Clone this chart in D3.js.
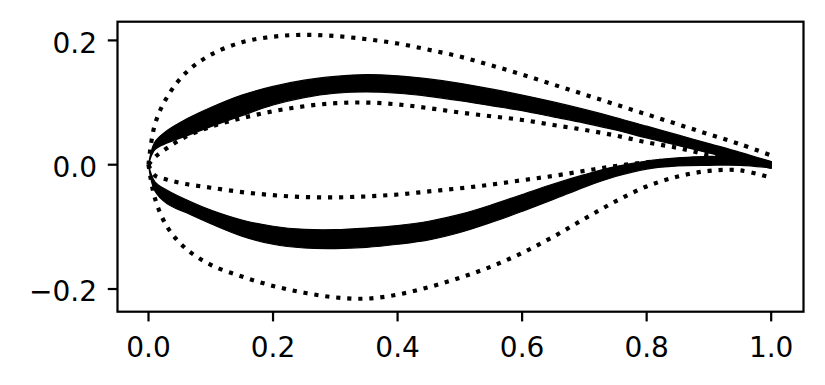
<!DOCTYPE html>
<html>
<head>
<meta charset="utf-8">
<script src="https://cdn.jsdelivr.net/npm/d3@7"></script>
<style>
  html, body { margin: 0; padding: 0; background: #fff; }
  svg { display: block; }
  text { font-family: "DejaVu Sans", sans-serif; fill: #000; }
</style>
</head>
<body>
<svg id="chart" width="825" height="385"></svg>
<script>
// ---- data ----
const xs = [0, 0.01, 0.03, 0.06, 0.1, 0.15, 0.2, 0.25, 0.3, 0.35, 0.4, 0.45, 0.5,
            0.55, 0.6, 0.65, 0.7, 0.75, 0.8, 0.85, 0.9, 0.95, 1.0];

// dotted envelope curves
const upperOuter = [0, 0.064, 0.109, 0.148, 0.177, 0.197, 0.206, 0.209, 0.207, 0.202, 0.195, 0.185, 0.174,
                    0.160, 0.145, 0.129, 0.113, 0.097, 0.081, 0.065, 0.049, 0.033, 0.015];
const upperInner = [0, 0.012, 0.027, 0.045, 0.061, 0.075, 0.086, 0.094, 0.099, 0.100, 0.097, 0.091, 0.084,
                    0.078, 0.072, 0.064, 0.056, 0.047, 0.036, 0.027, 0.016, 0.009, 0.002];
const lowerInner = [0, -0.017, -0.024, -0.031, -0.037, -0.044, -0.049, -0.052, -0.0525, -0.051, -0.048, -0.043, -0.038,
                    -0.032, -0.025, -0.018, -0.010, -0.002, 0.004, 0.008, 0.010, 0.008, 0.002];
const lowerOuter = [0, -0.053, -0.100, -0.135, -0.161, -0.180, -0.195, -0.206, -0.2135, -0.2155, -0.209, -0.197, -0.182,
                    -0.164, -0.142, -0.116, -0.087, -0.059, -0.035, -0.019, -0.010, -0.009, -0.021];

// thick bands (upper and lower surface)
const upperBandTop = [0, 0.036, 0.055, 0.073, 0.092, 0.112, 0.126, 0.136, 0.142, 0.145, 0.143, 0.138, 0.131,
                      0.122, 0.112, 0.101, 0.089, 0.076, 0.062, 0.048, 0.034, 0.020, 0.005];
const upperBandBottom = [0, 0.024, 0.035, 0.046, 0.061, 0.079, 0.096, 0.108, 0.115, 0.117, 0.115, 0.110, 0.103,
                         0.095, 0.087, 0.077, 0.067, 0.056, 0.043, 0.031, 0.019, 0.007, -0.006];
const lowerBandTop = [0, -0.027, -0.041, -0.056, -0.073, -0.089, -0.099, -0.104, -0.1045, -0.102, -0.098, -0.091, -0.080,
                      -0.065, -0.048, -0.031, -0.016, -0.003, 0.006, 0.011, 0.0135, 0.0115, 0.005];
const lowerBandBottom = [0, -0.042, -0.063, -0.077, -0.095, -0.115, -0.128, -0.134, -0.135, -0.133, -0.128, -0.121, -0.109,
                         -0.093, -0.075, -0.056, -0.036, -0.019, -0.007, -0.002, -0.001, -0.001, -0.005];

const xTicks = [0.0, 0.2, 0.4, 0.6, 0.8, 1.0];
const yTicks = [-0.2, 0.0, 0.2];

// ---- layout ----
const svg = d3.select("#chart");
const L = 117.5, R = 803.5, T = 21.7, B = 311.7;
const x = d3.scaleLinear().domain([-0.0498, 1.0519]).range([L, R]);
const y = d3.scaleLinear().domain([-0.2365, 0.2301]).range([B, T]);

const DPI = 200 / 72;         // px per pt
const lw = 1.5 * DPI;         // dotted line width
const fontSize = 28;

const curve = d3.curveCatmullRom.alpha(0.5);

function bandArea(top, bottom) {
  return d3.area()
    .x((d, i) => x(xs[i]))
    .y0((d, i) => y(bottom[i]))
    .y1((d, i) => y(top[i]))
    .curve(curve)(xs);
}
function linePath(vals) {
  return d3.line()
    .x((d, i) => x(xs[i]))
    .y((d, i) => y(vals[i]))
    .curve(curve)(xs);
}

const plot = svg.append("g");

// bands
[[upperBandTop, upperBandBottom], [lowerBandTop, lowerBandBottom]].forEach(([t, b]) => {
  plot.append("path")
    .attr("d", bandArea(t, b))
    .attr("fill", "#000")
    .attr("stroke", "#000")
    .attr("stroke-width", 1.2)
    .attr("stroke-linejoin", "round");
});

// dotted lines
[upperOuter, upperInner, lowerInner, lowerOuter].forEach(vals => {
  plot.append("path")
    .attr("d", linePath(vals))
    .attr("fill", "none")
    .attr("stroke", "#000")
    .attr("stroke-width", lw)
    .attr("stroke-linecap", "butt")
    .attr("stroke-dasharray", `${lw} ${1.65 * lw}`);
});

// ---- axes ----
const tickLen = 3.5 * DPI;
const axisW = 0.8 * DPI;

const axes = svg.append("g");
axes.append("rect")
  .attr("x", L).attr("y", T)
  .attr("width", R - L).attr("height", B - T)
  .attr("fill", "none").attr("stroke", "#000").attr("stroke-width", axisW);

// x ticks
xTicks.forEach(v => {
  const px = x(v);
  axes.append("line")
    .attr("x1", px).attr("x2", px)
    .attr("y1", B).attr("y2", B + tickLen)
    .attr("stroke", "#000").attr("stroke-width", axisW);
  axes.append("text")
    .attr("x", px).attr("y", 356.5)
    .attr("text-anchor", "middle")
    .attr("font-size", fontSize)
    .text(d3.format(".1f")(v));
});

// y ticks
yTicks.forEach(v => {
  const py = y(v);
  axes.append("line")
    .attr("x1", L - tickLen).attr("x2", L)
    .attr("y1", py).attr("y2", py)
    .attr("stroke", "#000").attr("stroke-width", axisW);
  axes.append("text")
    .attr("x", 97)
    .attr("y", py + 12.3)
    .attr("text-anchor", "end")
    .attr("font-size", fontSize)
    .text(d3.format(".1f")(v).replace("-", "\u2212"));
});
</script>
</body>
</html>
